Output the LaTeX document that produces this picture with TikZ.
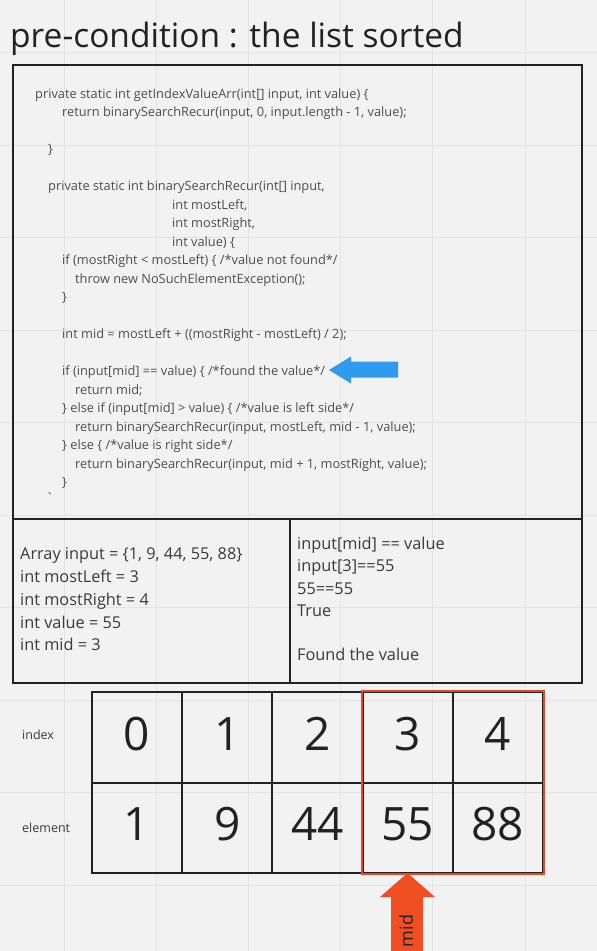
\documentclass[tikz,border=0pt]{standalone}
\usepackage{fontspec}
\setmainfont{Open Sans}
\newfontfamily\rawfont{Open Sans}
\definecolor{paper}{HTML}{F2F2F2}
\definecolor{gridline}{HTML}{E3E3E3}
\definecolor{ink}{HTML}{222222}
\definecolor{codeink}{HTML}{4D4D4D}
\definecolor{textink}{HTML}{3A3A3A}
\definecolor{pointer}{HTML}{2F9BEF}
\definecolor{hilite}{HTML}{E2492B}
\definecolor{midarrow}{HTML}{F04E23}
\tikzset{
  panel/.style={draw=ink, line width=2pt, inner sep=0pt, anchor=north west},
  codeline/.style={font=\fontsize{12.8}{15}\selectfont, text=codeink, inner sep=0pt, anchor=mid west},
  note/.style={font=\fontsize{16.3}{19}\selectfont, text=textink, inner sep=0pt, anchor=mid west},
  rowlabel/.style={font=\fontsize{12.5}{15}\selectfont, text=textink, inner sep=0pt, anchor=mid west},
  cell/.style={draw=ink, line width=2pt, minimum width=90.2pt, minimum height=90.5pt, inner sep=0pt},
  digit/.style={font=\fontsize{46}{50}\selectfont, text=ink, inner sep=0pt, yshift=3.5pt},
}
\begin{document}
\begin{tikzpicture}[x=1pt, y=-1pt]
  % canvas and background grid
  \fill[paper] (0,0) rectangle (597,951);
  \useasboundingbox (0,0) rectangle (597,951);
  \foreach \gx in {64,156.2,248.4,340.6,432.8,525} \draw[gridline, line width=1pt] (\gx,0) -- (\gx,951);
  \foreach \gy in {52.5,145,237.5,330,422.5,515,607.5,700,792.5,885} \draw[gridline, line width=1pt] (0,\gy) -- (597,\gy);

  % heading
  \node[font=\fontsize{33.5}{38}\selectfont, text=ink, inner sep=0pt, anchor=base west] (title) at (10,47.5) {pre-condition : the list sorted};

  % source code panel
  \node[panel, minimum width=569pt, minimum height=454pt] (codebox) at (12,64) {};
  \node[codeline] (c01) at (35,95.5) {private static int getIndexValueArr(int[] input, int value) \{};
  \node[codeline] (c02) at (62,114) {return binarySearchRecur(input, 0, input.length - 1, value);};
  \node[codeline] (c03) at (48,151) {\}};
  \node[codeline] (c04) at (48,188) {private static int binarySearchRecur(int[] input,};
  \node[codeline] (c05) at (172,206.5) {int mostLeft,};
  \node[codeline] (c06) at (172,225) {int mostRight,};
  \node[codeline] (c07) at (172,243.5) {int value) \{};
  \node[codeline] (c08) at (62,262) {if (mostRight < mostLeft) \{ /*value not found*/};
  \node[codeline] (c09) at (75,280.5) {throw new NoSuchElementException();};
  \node[codeline] (c10) at (62,299) {\}};
  \node[codeline] (c11) at (62,336) {int mid = mostLeft + ((mostRight - mostLeft) / 2);};
  \node[codeline] (c12) at (62,373) {if (input[mid] == value) \{ /*found the value*/};
  \node[codeline] (c13) at (75,391.5) {return mid;};
  \node[codeline] (c14) at (62,410) {\} else if (input[mid] > value) \{ /*value is left side*/};
  \node[codeline] (c15) at (75,428.5) {return binarySearchRecur(input, mostLeft, mid - 1, value);};
  \node[codeline] (c16) at (62,447) {\} else \{ /*value is right side*/};
  \node[codeline] (c17) at (75,465.5) {return binarySearchRecur(input, mid + 1, mostRight, value);};
  \node[codeline] (c18) at (62,484) {\}};
  \node[codeline] (c19) at (46,500) {\rawfont `};

  % pointer at the matching branch
  \fill[pointer] (398,361.5) -- (351,361.5) -- (351,356.5) -- (329,370) -- (351,383.5) -- (351,377.5) -- (398,377.5) -- cycle;

  % state panels
  \node[panel, minimum width=277pt, minimum height=164pt] (state) at (12,518) {};
  \node[panel, minimum width=292pt, minimum height=164pt] (check) at (289,518) {};
  \node[note] (s1) at (20,557) {Array input = \{1, 9, 44, 55, 88\}};
  \node[note] (s2) at (20,580) {int mostLeft = 3};
  \node[note] (s3) at (20,603) {int mostRight = 4};
  \node[note] (s4) at (20,625.5) {int value = 55};
  \node[note] (s5) at (20,648) {int mid = 3};
  \node[note] (k1) at (297,547) {input[mid] == value};
  \node[note] (k2) at (297,569) {input[3]==55};
  \node[note] (k3) at (297,591.5) {55==55};
  \node[note] (k4) at (297,613.5) {True};
  \node[note] (k5) at (297,658) {Found the value};

  % array table
  \node[rowlabel] (lblindex) at (22,736.5) {index};
  \node[rowlabel] (lblelem) at (22,829.5) {element};
  \foreach \i/\v [count=\k from 0] in {0/1,1/9,2/44,3/55,4/88} {
    \node[cell] (i\k) at (137.1+\k*90.2,737.25) {};
    \node[cell] (e\k) at (137.1+\k*90.2,827.75) {};
    \node[digit] (di\k) at (i\k.center) {\i};
    \node[digit] (de\k) at (e\k.center) {\v};
  }

  % highlighted right half and the mid pointer
  \draw[hilite, line width=2pt] (i3.north west) rectangle (e4.south east);
  \fill[midarrow] (391,960) -- (391,897) -- (380,897) -- (407.5,873) -- (435,897) -- (423,897) -- (423,960) -- cycle;
  \node[font=\fontsize{18}{20}\selectfont, text=ink, rotate=90, inner sep=0pt] (midlbl) at (406,931) {mid};
\end{tikzpicture}
\end{document}
